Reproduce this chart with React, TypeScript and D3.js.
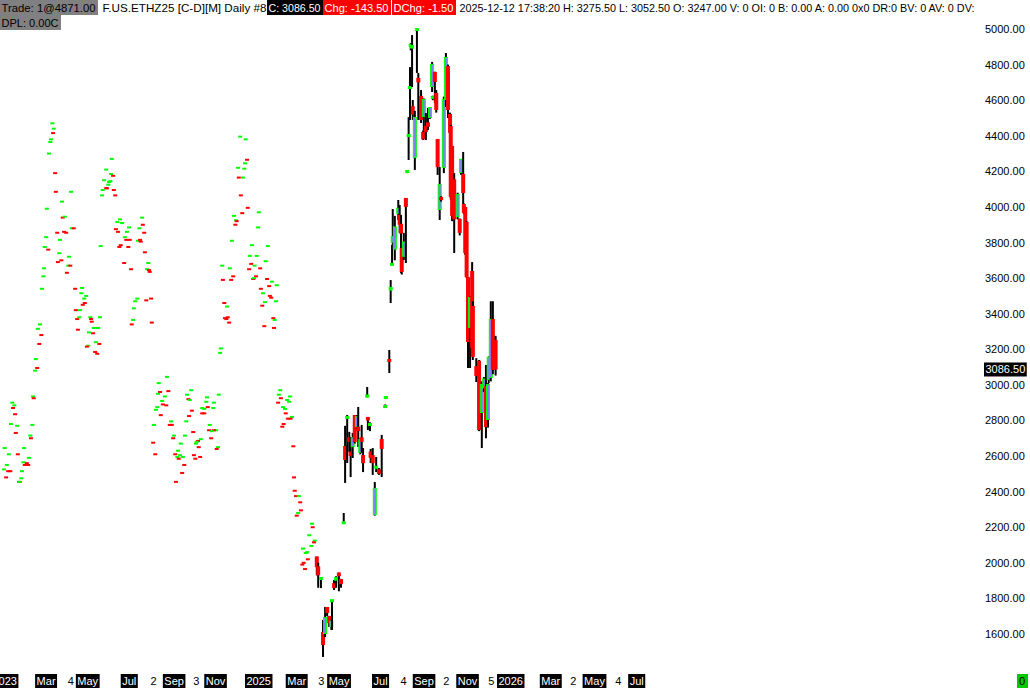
import * as d3 from "d3";

const W = 1030;
const H = 690;
const FONT = '"Liberation Sans", Arial, sans-serif';
const GREEN = "#00ff00";
const RED = "#ff0000";
const BLUE = "#8080ff";

// right axis price labels
const priceTicks = [1600, 1800, 2000, 2200, 2400, 2600, 2800, 3000, 3200, 3400, 3600, 3800, 4000, 4200, 4400, 4600, 4800, 5000];

// bottom labels: text, day offset from 2025-01-01, boxed (month/year) or plain (count)
const timeLabels: [string, number, boolean][] = [
  ["2023", -368, true], ["Mar", -304, true], ["4", -259, false], ["May", -245, true],
  ["Jul", -180, true], ["2", -139, false], ["Sep", -119, true], ["3", -77, false],
  ["Nov", -59, true], ["2025", 0, true], ["Mar", 59, true], ["3", 104, false],
  ["May", 119, true], ["Jul", 184, true], ["4", 223, false], ["Sep", 243, true],
  ["2", 285, false], ["Nov", 306, true], ["5", 350, false], ["2026", 365, true],
  ["Mar", 427, true], ["2", 469, false], ["May", 489, true], ["4", 534, false],
  ["Jul", 555, true],
];

// close ticks (day, close, 1 = up / 0 = down)
const closeTicks: [number, number, number][] = [
  [-279,4470,1],[-277,4440,1],[-278,4415,0],[-281,4380,1],[-282,4365,1],[-284,4300,1],[-275,4190,0],[-274,4085,0],
  [-252,4085,1],[-265,4030,1],[-287,3990,1],[-264,3940,0],[-261,3945,1],[-251,3880,1],[-248,3880,0],[-272,3855,0],
  [-262,3860,0],[-259,3855,0],[-288,3830,1],[-268,3815,1],[-290,3775,1],[-285,3760,0],[-269,3740,1],[-255,3720,1],
  [-266,3700,0],[-271,3690,0],[-291,3655,1],[-256,3670,1],[-253,3670,0],[-258,3630,0],[-292,3610,1],[-294,3540,1],
  [-246,3540,0],[-236,3545,1],[-237,3515,1],[-230,3500,1],[-233,3485,1],[-232,3460,0],[-235,3450,0],[-245,3420,0],
  [-239,3420,1],[-243,3370,0],[-240,3380,1],[-224,3380,1],[-210,3380,1],[-223,3370,0],[-222,3355,0],[-219,3320,1],
  [-213,3320,1],[-242,3310,0],[-226,3295,1],[-220,3290,0],[-216,3240,1],[-211,3230,0],[-227,3220,1],[-229,3215,0],
  [-217,3185,0],[-214,3175,0],[-297,3340,1],[-300,3315,1],[-295,3280,0],[-298,3230,0],[-303,3145,1],[-301,3095,0],
  [-304,3080,1],[-307,2935,1],[-306,2925,0],[-337,2900,1],[-334,2885,1],[-336,2870,0],[-333,2835,0],[-339,2780,1],
  [-330,2770,1],[-308,2775,1],[-332,2730,0],[-311,2715,1],[-310,2700,0],[-348,2645,1],[-320,2645,1],[-342,2610,1],
  [-329,2610,0],[-313,2590,1],[-321,2565,1],[-316,2560,0],[-319,2550,0],[-314,2550,0],[-345,2550,1],[-349,2525,1],
  [-343,2515,0],[-340,2515,0],[-323,2515,1],[-346,2480,0],[-324,2475,1],[-327,2455,0],[-326,2455,1],
  [-193,4270,1],[-201,4210,1],[-194,4185,1],[-191,4175,0],[-204,4150,1],[-195,4145,1],[-197,4140,1],[-198,4125,1],
  [-201,4105,0],[-200,4105,0],[-206,4095,1],[-190,4095,0],[-207,4065,1],[-188,4065,0],[-181,3930,1],[-185,3915,1],
  [-178,3910,1],[-168,3885,1],[-187,3875,0],[-153,3880,1],[-149,3940,1],[-148,3900,0],[-184,3860,0],[-171,3860,1],
  [-146,3855,0],[-174,3830,1],[-172,3815,0],[-167,3815,0],[-155,3810,1],[-152,3815,0],[-151,3805,0],[-180,3785,0],
  [-182,3775,0],[-169,3775,0],[-209,3780,1],[-145,3745,0],[-175,3685,0],[-140,3685,1],[-165,3650,0],[-142,3650,1],
  [-139,3645,0],[-138,3635,0],[-156,3485,1],[-159,3470,1],[-143,3475,0],[-136,3485,0],[-161,3430,1],[-162,3365,1],
  [-164,3340,0],[-135,3350,0],[-113,3045,1],[-125,3010,1],[-111,2965,0],[-123,2960,0],[-126,2950,1],[-116,2935,1],
  [-120,2910,1],[-119,2890,0],[-114,2885,0],[-127,2875,1],[-129,2860,1],[-122,2830,0],[-132,2775,1],[-133,2675,0],
  [-130,2610,0],
  [-7,4395,1],[1,4380,1],[3,4265,0],[0,4245,1],[-10,4220,1],[-1,4215,1],[-9,4165,0],[-3,4165,1],[-6,4065,0],
  [4,3995,0],[-4,3965,0],[20,3970,1],[-16,3950,1],[-13,3925,1],[-12,3920,0],[-14,3900,0],[19,3885,1],[-19,3810,1],
  [10,3785,1],[33,3780,1],[7,3725,1],[17,3725,1],[30,3695,1],[9,3680,0],[14,3670,1],[-33,3670,1],[-22,3655,1],
  [6,3650,0],[22,3655,0],[-17,3610,0],[16,3610,0],[-32,3590,0],[-20,3590,0],[12,3595,0],[13,3600,1],[32,3595,0],
  [39,3580,1],[46,3560,1],[35,3555,0],[23,3540,0],[26,3515,1],[36,3500,0],[38,3490,0],[29,3465,1],[45,3470,1],
  [25,3445,0],[-30,3460,0],[-26,3440,1],[-29,3375,0],[-27,3370,0],[-25,3380,0],[-23,3350,0],[41,3375,0],[43,3365,1],
  [28,3330,0],[42,3320,0],[-35,3205,1],[-36,3180,1],
  [-78,2970,1],[-84,2945,1],[-82,2920,0],[-80,2915,1],[-55,2930,1],[-38,2945,1],[-45,2900,1],[-56,2905,1],
  [-62,2870,1],[-59,2865,1],[-54,2875,0],[-46,2870,1],[-77,2855,0],[-62,2840,0],[-59,2840,0],[-81,2825,0],
  [-85,2795,1],[-107,2795,1],[-109,2775,0],[-106,2775,0],[-51,2775,1],[-52,2745,0],[-42,2745,1],[-45,2745,0],
  [-48,2740,1],[-75,2735,0],[-103,2715,1],[-87,2715,1],[-104,2700,0],[-64,2695,1],[-49,2700,0],[-68,2685,0],
  [-70,2680,1],[-93,2670,1],[-71,2670,1],[-67,2650,0],[-39,2650,1],[-41,2640,0],[-97,2630,1],[-101,2610,0],
  [-94,2605,1],[-74,2605,0],[-98,2595,1],[-90,2595,1],[-65,2595,0],[-96,2585,0],[-72,2585,0],[-88,2550,0],
  [-91,2505,0],[-100,2455,0],
  [51,2970,1],[49,2945,1],[65,2935,1],[52,2925,0],[61,2915,1],[48,2900,0],[64,2905,1],[55,2875,1],[58,2865,1],
  [59,2840,0],[68,2820,1],[62,2810,0],[66,2810,0],[56,2780,0],[54,2765,0],[70,2655,0],[71,2480,0],[72,2405,0],
  [74,2375,0],[78,2375,1],[80,2340,0],[81,2295,0],[77,2280,1],[75,2265,0],
  [97,2220,1],[98,2200,0],[93,2155,1],[101,2125,1],[100,2115,0],[96,2095,1],[84,2080,1],[90,2060,1],[88,2055,1],
  [91,2020,0],[85,2000,0],[83,1990,0],[87,1965,0],
];

// daily bars (day, open, high, low, close)
const candles: [number, number, number, number, number][] = [
  [104,2030,2035,1930,1975],[106,1975,2000,1860,1930],[110,1910,1920,1858,1915],[113,1606,1679,1471,1538],
  [116,1600,1752,1583,1690],[119,1746,1752,1700,1718],[122,1696,1700,1640,1660],[125,1640,1680,1623,1670],
  [126,1780,1791,1623,1790],[129,1880,1903,1847,1858],[132,1900,1925,1860,1915],[136,1940,1945,1840,1925],
  [139,1903,1910,1860,1880],[143,2222,2280,2222,2228],[145,2651,2770,2449,2578],[148,2810,2831,2561,2820],
  [151,2700,2736,2623,2680],[153,2620,2707,2482,2600],[156,2650,2730,2589,2700],[159,2825,2830,2670,2679],
  [162,2763,2830,2750,2819],[164,2760,2876,2651,2740],[167,2617,2700,2610,2690],[169,2700,2775,2617,2680],
  [171,2600,2645,2510,2560],[177,2935,2988,2930,2940],[178,2814,2820,2746,2800],[181,2770,2790,2740,2780],
  [182,2620,2640,2561,2590],[185,2600,2645,2494,2560],[188,2269,2454,2265,2415],[190,2530,2595,2510,2540],
  [194,2520,2533,2494,2500],[198,2690,2719,2482,2640],[203,2875,2890,2870,2881],[204,2925,2935,2920,2932],
  [209,3140,3196,3067,3130],[211,3530,3589,3460,3545],[213,3675,3786,3674,3680],[214,3800,3988,3775,3830],
  [217,3760,3950,3700,3885],[222,3960,4039,3927,3990],[224,3950,4011,3854,3900],[226,3900,3955,3629,3850],
  [227,3764,3780,3620,3634],[230,3720,3854,3702,3800],[233,4045,4050,3685,4000],[235,4195,4205,4190,4202],
  [237,4395,4505,4264,4404],[239,4665,4786,4489,4674],[240,4900,4920,4880,4910],[242,4890,4966,4674,4905],
  [243,4560,4601,4489,4520],[246,4275,4540,4208,4500],[249,4990,5005,4753,5000],[251,4720,4753,4489,4700],
  [255,4618,4657,4472,4489],[258,4416,4430,4376,4380],[259,4505,4610,4430,4601],[262,4450,4528,4376,4420],
  [265,4470,4556,4432,4450],[268,4500,4560,4495,4556],[271,4674,4815,4646,4798],[272,4610,4625,4600,4618],
  [275,4753,4760,4585,4702],[277,4635,4657,4530,4545],[279,4376,4380,4180,4224],[282,3983,4224,3927,4123],
  [284,4050,4060,4030,4039],[288,4219,4620,4190,4600],[291,4601,4865,4562,4837],[294,4786,4800,4500,4545],
  [297,4517,4530,4380,4416],[298,4449,4460,4040,4056],[300,4337,4340,3920,3950],[303,4150,4190,3741,3930],
  [308,3943,4080,3930,4067],[311,3927,3935,3840,3854],[313,4191,4270,4180,4264],[316,4180,4309,4000,4078],
  [317,4011,4020,3960,3966],[319,3994,4000,3730,3741],[321,3910,3920,3600,3606],[323,3600,3606,3095,3241],
  [326,3320,3500,3095,3488],[329,3634,3690,3200,3207],[330,3438,3470,3140,3157],[335,3100,3150,3016,3050],
  [339,3130,3140,2740,2746],[343,2842,3020,2645,2999],[346,2980,3044,2960,3030],[349,2988,3112,2700,2763],
  [352,2803,3010,2760,2999],[353,3027,3160,3010,3151],[356,3039,3470,3020,3365],[359,3365,3470,3060,3084],
  [363,3247,3275.5,3052.5,3086.5],
];

const lastPrice = 3086.5;

// header strip: text, background, foreground
const headerLine1: [string, string | null, string][] = [
  ["Trade: 1@4871.00", "#808080", "#000"],
  ["F.US.ETHZ25 [C-D][M]  Daily #8", null, "#000"],
  ["C: 3086.50", "#000", "#fff"],
  ["Chg: -143.50", RED, "#fff"],
  ["DChg: -1.50", RED, "#fff"],
  ["2025-12-12 17:38:20 H: 3275.50 L: 3052.50 O: 3247.00 V: 0 OI: 0 B: 0.00 A: 0.00 0x0 DR:0 BV: 0 AV: 0 DV:", null, "#000"],
];
const headerLine2 = "DPL: 0.00C";

// where each header piece sits on the strip: left, box width, text width
const headerSlots = [
  [0, 98, 94], [101, 0, 164], [267, 56, 52], [323, 68, 64], [392, 64, 60], [458, 0, 515],
];

const ctx = document.createElement("canvas").getContext("2d")!;
ctx.font = `11px ${FONT}`;
const textW = (s: string) => ctx.measureText(s).width;

export default function App() {
  const x = d3.scaleLinear().domain([0, 365]).range([245, 497]);
  const y = d3.scaleLinear().domain([1600, 5000]).range([634, 29]);

  return (
    <svg width={W} height={H} style={{ position: "absolute", left: 0, top: 0, background: "#fff" }} fontFamily={FONT}>
      <rect width={W} height={H} fill="#fff" />

      {/* close ticks */}
      <g>
        {closeTicks.map(([d, c, up], i) => (
          <rect key={i} x={x(d) - 2} y={y(c) - 1} width={4} height={2} fill={up ? GREEN : RED} />
        ))}
      </g>

      {/* bars */}
      <g>
        {candles.map(([d, o, h, l, c], i) => {
          const cx = x(d);
          const top = y(Math.max(o, c));
          const bh = Math.max(2, Math.abs(y(o) - y(c)));
          const up = c >= o;
          return (
            <g key={i}>
              <rect x={cx - 1} y={y(h)} width={2} height={Math.max(1, y(l) - y(h))} fill="#000" />
              {up ? (
                <rect x={cx - 1.5} y={top - 0.5} width={3} height={bh} fill={bh > 3 ? BLUE : GREEN} stroke={GREEN} strokeWidth={1} />
              ) : (
                <rect x={cx - 2} y={top - 1} width={4} height={bh + 1} fill={RED} />
              )}
            </g>
          );
        })}
      </g>

      {/* right price axis */}
      <g fontSize={11}>
        {priceTicks.map((p) => (
          <text key={p} x={985} y={y(p)} dominantBaseline="central" fill="#000">
            {p.toFixed(2)}
          </text>
        ))}
        <rect x={984} y={y(lastPrice) - 7} width={textW(lastPrice.toFixed(2)) + 3} height={14} fill="#000" />
        <text x={985.5} y={y(lastPrice)} dominantBaseline="central" fill="#fff">
          {lastPrice.toFixed(2)}
        </text>
      </g>

      {/* bottom time labels */}
      <g fontSize={11}>
        {timeLabels.map(([t, d, boxed], i) => {
          const lx = x(d);
          const w = textW(t);
          return (
            <g key={i}>
              {boxed && <rect x={lx} y={674} width={w + 3} height={14} fill="#000" />}
              <text x={lx + 1.5} y={685} fill={boxed ? "#fff" : "#000"}>
                {t}
              </text>
            </g>
          );
        })}
        <rect x={1017} y={674} width={11} height={14} fill="#00c800" />
        <text x={1019} y={685} fill="#000">0</text>
      </g>

      {/* header */}
      <g fontSize={11.5} style={{ whiteSpace: "pre" }}>
        {headerLine1.map(([t, bg, fg], i) => {
          const [hx, bw, tw] = headerSlots[i];
          return (
            <g key={i}>
              {bg && <rect x={hx} y={0} width={bw} height={15} fill={bg} />}
              <text x={hx + 1.5} y={11.5} fill={fg} textLength={tw} lengthAdjust="spacingAndGlyphs">
                {t}
              </text>
            </g>
          );
        })}
        <rect x={0} y={15} width={61} height={15} fill="#808080" />
        <text x={1.5} y={26.5} fill="#000" textLength={57} lengthAdjust="spacingAndGlyphs">
          {headerLine2}
        </text>
      </g>
    </svg>
  );
}
